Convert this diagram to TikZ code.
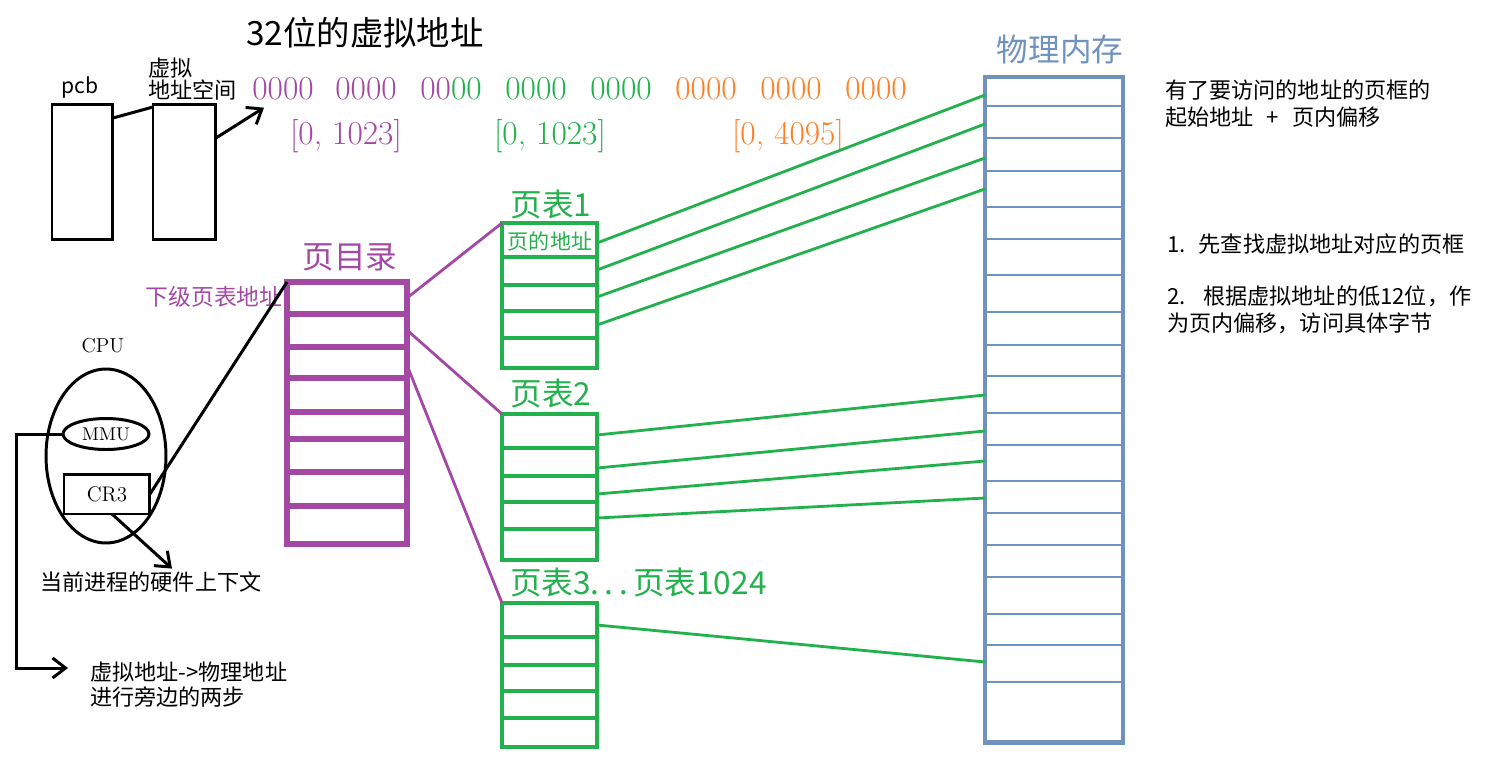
\documentclass[tikz,border=0pt]{standalone}
\usepackage{fontspec}
\usepackage{xcolor}
\usepackage{tikz}
\usetikzlibrary{arrows.meta,positioning,calc,shapes.geometric}
\newfontfamily\cjk{Noto Sans CJK SC}
\definecolor{ppurple}{RGB}{163,73,164}
\definecolor{pgreen}{RGB}{34,177,76}
\definecolor{porange}{RGB}{255,127,39}
\definecolor{pblue}{RGB}{112,146,190}

\begin{document}
\begin{tikzpicture}[x=0.02cm, y=-0.02cm,
    blk/.style={draw=black, line width=1.7pt},
    arr/.style={-{Straight Barb[length=2.6mm, width=4mm]}, line width=1.7pt},
    cell/.style={rectangle, inner sep=0pt, outer sep=0pt, anchor=north west},
    dirbox/.style={cell, draw=ppurple, line width=3.2pt},
    ptbox/.style={cell, draw=pgreen, line width=2.7pt},
    membox/.style={cell, draw=pblue, line width=2.8pt},
    plink/.style={ppurple, line width=1.6pt},
    glink/.style={pgreen, line width=1.6pt},
    txt/.style={inner sep=1pt, font=\cjk\fontsize{12.6}{14}\selectfont},
    big/.style={inner sep=1pt, font=\cjk\fontsize{18}{20}\selectfont},
    bits/.style={inner sep=0pt, font=\fontsize{19}{21}\selectfont},
    latin/.style={inner sep=0pt, font=\fontsize{11.5}{13}\selectfont}
  ]
  \useasboundingbox (0,0) rectangle (1498,762);

  % virtual address
  \node[inner sep=0pt, font=\cjk\fontsize{19}{22}\selectfont] (title) at (365,33) {32位的虚拟地址};
  \foreach \x/\c [count=\i] in {283/ppurple, 366/ppurple, 536/pgreen, 621/pgreen, 706/porange, 791/porange, 876/porange}
    \node[bits, text=\c] (b\i) at (\x,89) {0000};
  \node[bits] (bmix) at (451,89) {\textcolor{ppurple}{00}\textcolor{pgreen}{00}};
  \node[bits, text=ppurple] (rg1) at (346,136) {[0, 1023]};
  \node[bits, text=pgreen] (rg2) at (550,136) {[0, 1023]};
  \node[bits, text=porange] (rg3) at (788,136) {[0, 4095]};

  % process
  \node[cell, blk, minimum width=1.22cm, minimum height=2.72cm] (pcb) at (52,104) {};
  \node[cell, blk, minimum width=1.26cm, minimum height=2.72cm] (vas) at (153,104) {};
  \node[txt, font=\cjk\fontsize{12}{14}\selectfont] (pcbl) at (80,88) {pcb};
  \node[txt, anchor=west] (vasl1) at (146,68) {虚拟};
  \node[txt, anchor=west] (vasl2) at (146,90) {地址空间};
  \draw[blk] ($(pcb.north east)+(0,14)$) -- ($(vas.north west)+(0,3)$);
  \draw[arr] ($(vas.east)+(0,-34)$) -- ($(b1.south west)+(12,7)$);

  % cpu
  \node[latin] (cpul) at (103,346) {CPU};
  \node[ellipse, blk, minimum width=2.4cm, minimum height=3.48cm, inner sep=0pt] (cpu) at (106,456) {};
  \node[ellipse, blk, minimum width=1.72cm, minimum height=0.62cm, inner sep=0pt,
    font=\fontsize{10.5}{12}\selectfont] (mmu) at (106,434) {MMU};
  \node[cell, blk, minimum width=1.72cm, minimum height=0.8cm, font=\fontsize{12}{14}\selectfont] (cr3) at (64,474) {CR3\hspace{0.6em}};
  \node[txt, anchor=west] (ctx) at (38,582) {当前进程的硬件上下文};
  \node[txt, anchor=west] (note1) at (88,672) {虚拟地址->物理地址};
  \node[txt, anchor=west] (note2) at (88,697) {进行旁边的两步};
  \draw[arr] ($(cr3.south)+(5,0)$) -- ($(ctx.north west)+(134,-1)$);
  \draw[blk, arr] (mmu.west) -- ++(-45,0) |- ($(note1.west)+(-20,-4)$);

  % page directory
  \node[big, text=ppurple] (dirl) at (350,257) {页目录};
  \node[txt, text=ppurple, font=\cjk\fontsize{13}{14}\selectfont] (nextl) at (214,297) {下级页表地址};
  \node[dirbox, minimum width=2.4cm, minimum height=5.24cm] (dir) at (287,282) {};
  \foreach \d in {32,65,96,130,157,190,224}
    \draw[ppurple, line width=3.2pt] ($(dir.north west)+(0,\d)$) -- ($(dir.north east)+(0,\d)$);
  \draw[blk] (cr3.east) -- (dir.north west);

  % page tables
  \node[big, text=pgreen] (pt1l) at (551,205) {页表1};
  \node[big, text=pgreen] (pt2l) at (551,394) {页表2};
  \node[big, text=pgreen, anchor=west] (pt3l) at (508,583) {页表3.\,.\,.\,页表1024};
  \node[ptbox, minimum width=1.9cm, minimum height=2.9cm] (pt1) at (502,223) {};
  \node[ptbox, minimum width=1.9cm, minimum height=2.92cm] (pt2) at (502,414) {};
  \node[ptbox, minimum width=1.9cm, minimum height=2.88cm] (pt3) at (502,603) {};
  \foreach \t in {pt1,pt2,pt3}
    \foreach \d in {34,62,88,115}
      \draw[pgreen, line width=2.7pt] ($(\t.north west)+(0,\d)$) -- ($(\t.north east)+(0,\d)$);
  \node[txt, text=pgreen, font=\cjk\fontsize{12}{14}\selectfont] (pgaddr) at (550,241) {页的地址};
  \draw[plink] ($(dir.north east)+(0,16)$) -- (pt1.north west);
  \draw[plink] ($(dir.north east)+(0,48)$) -- (pt2.north west);
  \draw[plink] ($(dir.north east)+(0,83)$) -- (pt3.north west);

  % physical memory
  \node[big, text=pblue] (meml) at (1060,50) {物理内存};
  \node[membox, minimum width=2.76cm, minimum height=13.32cm] (mem) at (985,77) {};
  \foreach \d in {29,61,94,130,162,198,235,268,299,336,368,404,436,468,500,537,568,605}
    \draw[pblue, line width=1.6pt] ($(mem.north west)+(0,\d)$) -- ($(mem.north east)+(0,\d)$);
  \foreach \a/\b in {20/18, 47/47, 74/81, 102/112}
    \draw[glink] ($(pt1.north east)+(0,\a)$) -- ($(mem.north west)+(0,\b)$);
  \foreach \a/\b in {21/318, 54/354, 80/384, 104/421}
    \draw[glink] ($(pt2.north east)+(0,\a)$) -- ($(mem.north west)+(0,\b)$);
  \draw[glink] ($(pt3.north east)+(0,22)$) -- ($(mem.north west)+(0,585)$);

  % notes
  \node[txt, anchor=west] (r1) at (1163,90) {有了要访问的地址的页框的};
  \node[txt, anchor=west] (r2) at (1163,117) {起始地址\hspace{0.6em}+\hspace{0.6em}页内偏移};
  \node[txt, anchor=west] (s1) at (1165,244) {1.\hspace{0.6em}先查找虚拟地址对应的页框};
  \node[txt, anchor=west] (s2) at (1165,296) {2.\hspace{0.8em}根据虚拟地址的低12位，作};
  \node[txt, anchor=west] (s3) at (1165,323) {为页内偏移，访问具体字节};
\end{tikzpicture}
\end{document}
